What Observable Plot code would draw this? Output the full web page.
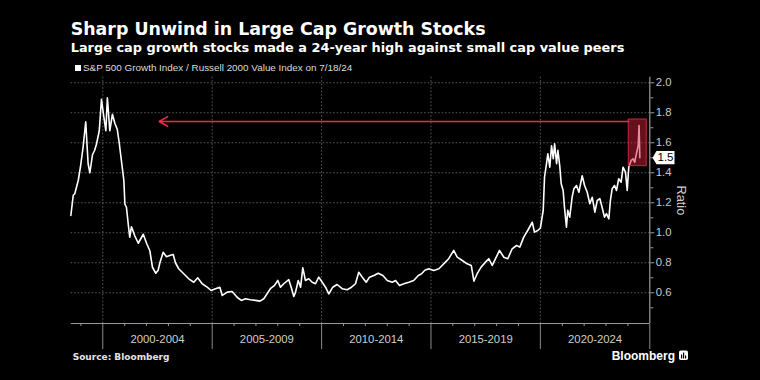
<!DOCTYPE html>
<html><head><meta charset="utf-8">
<script src="https://cdn.jsdelivr.net/npm/d3@7"></script>
<script src="https://cdn.jsdelivr.net/npm/@observablehq/plot@0.6"></script>
<style>
html,body{margin:0;padding:0;background:#000;}
#wrap{position:relative;width:760px;height:380px;background:#000;overflow:hidden;}
#wrap svg{position:absolute;left:0;top:0;}
</style></head><body>
<div id="wrap"></div>
<script>
// ---- data (decimal years) ----
const years = [1998.54,1998.65,1998.72,1998.88,1998.98,1999.10,1999.22,1999.33,1999.41,1999.53,1999.63,1999.71,1999.84,1999.94,
2000.05,2000.14,2000.21,2000.32,2000.44,2000.55,2000.66,2000.75,2000.85,2000.96,2001.01,2001.08,2001.16,2001.23,2001.31,2001.46,2001.62,2001.85,
2002.00,2002.15,2002.27,2002.42,2002.53,2002.61,2002.76,2002.91,2003.09,2003.22,2003.32,2003.47,2003.70,2003.93,2004.16,2004.34,2004.54,2004.77,2004.95,
2005.15,2005.35,2005.46,2005.69,2005.91,2006.14,2006.33,2006.52,2006.75,2006.98,2007.18,2007.36,2007.51,2007.66,2007.85,2008.00,2008.12,2008.27,2008.50,2008.61,2008.73,2008.81,2008.93,
2009.04,2009.14,2009.26,2009.41,2009.57,2009.72,2009.87,2010.03,2010.18,2010.33,2010.51,2010.71,2010.94,2011.17,2011.37,2011.55,2011.70,2011.86,
2012.04,2012.19,2012.39,2012.59,2012.80,2013.00,2013.23,2013.38,2013.56,2013.76,2013.99,2014.21,2014.42,2014.57,2014.72,2014.90,
2015.13,2015.36,2015.51,2015.66,2015.81,2016.04,2016.20,2016.43,2016.65,2016.84,2016.96,2017.11,2017.29,2017.49,2017.64,2017.80,2017.95,
2018.13,2018.33,2018.51,2018.71,2018.91,2019.06,2019.24,2019.42,2019.63,2019.73,2019.88,
2020.00,2020.13,2020.19,2020.28,2020.34,2020.43,2020.51,2020.59,2020.65,2020.74,2020.80,2020.89,2020.95,2021.04,2021.10,2021.19,2021.25,2021.34,2021.45,2021.53,2021.65,2021.76,2021.91,
2022.02,2022.14,2022.26,2022.37,2022.49,2022.60,2022.72,2022.82,2022.93,2023.02,2023.13,2023.20,2023.28,2023.39,2023.48,2023.58,2023.69,2023.78,2023.89,2023.97,
2024.04,2024.15,2024.24,2024.31,2024.39,2024.47,2024.51,2024.53,2024.545];
const ratio = [1.115,1.25,1.26,1.35,1.44,1.57,1.74,1.46,1.40,1.52,1.55,1.59,1.68,1.89,
1.77,1.68,1.90,1.68,1.79,1.73,1.69,1.60,1.48,1.35,1.19,1.17,1.06,0.97,1.04,0.98,0.93,0.99,
0.93,0.88,0.77,0.73,0.75,0.80,0.87,0.84,0.85,0.855,0.80,0.76,0.727,0.693,0.67,0.70,0.66,0.637,0.615,
0.627,0.637,0.582,0.604,0.608,0.57,0.549,0.56,0.553,0.549,0.544,0.56,0.593,0.627,0.649,0.682,0.637,0.66,0.687,0.637,0.575,0.604,0.682,
0.637,0.767,0.682,0.693,0.67,0.66,0.704,0.67,0.637,0.593,0.637,0.655,0.627,0.62,0.637,0.66,0.737,0.704,
0.67,0.704,0.715,0.73,0.715,0.682,0.67,0.682,0.649,0.66,0.67,0.682,0.715,0.727,0.75,0.76,
0.749,0.76,0.782,0.804,0.827,0.882,0.837,0.815,0.793,0.782,0.677,0.727,0.771,0.804,0.827,0.782,0.827,
0.882,0.837,0.827,0.893,0.915,0.904,0.971,1.015,1.07,1.004,1.015,
1.03,1.15,1.37,1.46,1.527,1.437,1.58,1.493,1.593,1.46,1.549,1.437,1.327,1.282,1.17,1.037,1.149,1.104,1.237,1.293,1.315,1.27,1.38,
1.315,1.27,1.193,1.237,1.137,1.215,1.227,1.17,1.104,1.127,1.093,1.215,1.293,1.315,1.282,1.36,1.337,1.437,1.404,1.282,
1.437,1.482,1.493,1.47,1.527,1.58,1.715,1.60,1.50];

const gridYears = [2000, 2005, 2010, 2015, 2020];
const boundaryYears = [2000, 2005, 2010, 2015, 2020, 2025];
const minorYears = [1999,2001,2002,2003,2004,2006,2007,2008,2009,2011,2012,2013,2014,2016,2017,2018,2019,2021,2022,2023,2024];
const periodLabels = ["2000-2004", "2005-2009", "2010-2014", "2015-2019", "2020-2024"];
const periodMid = [2002.5, 2007.5, 2012.5, 2017.5, 2022.5];
const yTicks = [0.6, 0.8, 1.0, 1.2, 1.4, 1.6, 1.8, 2.0];
const yMinor = [0.5, 0.7, 0.9, 1.1, 1.3, 1.5, 1.7, 1.9];
const lastValue = [1.5];
const highlight = [{from: 2024.04, to: 2024.86, low: 1.444, high: 1.755}];
const arrowAnn = [{from: 2024.04, to: 2002.58, level: 1.742}];
const xDomain = [1998.556, 2025.0];
const yDomain = [0.395, 2.037];

function toDate(y) {
  const yr = Math.floor(y);
  const s = Date.UTC(yr, 0, 1), e = Date.UTC(yr + 1, 0, 1);
  return new Date(s + (y - yr) * (e - s));
}
const data = years.map((y, i) => ({date: toDate(y), value: ratio[i]}));
const endDate = toDate(xDomain[1]);

const tagSymbol = {
  draw(ctx) {
    ctx.moveTo(2.7, 0);
    ctx.lineTo(6.7, -6.7);
    ctx.lineTo(24.7, -6.7);
    ctx.lineTo(24.7, 6.5);
    ctx.lineTo(6.7, 6.5);
    ctx.closePath();
  }
};
const blank = () => "";
const gridStyle = {stroke: "#5c5c5c", strokeOpacity: 1, strokeDasharray: "1.5,2", strokeWidth: 1};

const chart = Plot.plot({
  width: 760, height: 380,
  marginTop: 76.7, marginBottom: 57, marginLeft: 70.7, marginRight: 110.7,
  style: {background: "transparent", color: "#c8c8c8", fontFamily: "'Liberation Sans', Arial, sans-serif", fontSize: "11.3px"},
  x: {type: "utc", domain: xDomain.map(toDate), label: null},
  y: {domain: yDomain, label: null},
  marks: [
    Plot.gridY(yTicks, gridStyle),
    Plot.gridX(gridYears.map(toDate), gridStyle),
    Plot.axisX(boundaryYears.map(toDate), {tickSize: 26, tickFormat: blank, stroke: "#8a8a8a", label: null}),
    Plot.axisX(minorYears.map(toDate), {tickSize: 3, tickFormat: blank, stroke: "#9a9a9a", label: null}),
    Plot.ruleY([yDomain[0]], {stroke: "#9a9a9a", strokeWidth: 1.2}),
    Plot.ruleX([endDate], {stroke: "#9a9a9a", strokeWidth: 1.2}),
    Plot.axisY(yTicks, {anchor: "right", tickSize: 4, tickPadding: 2, tickFormat: d3.format(".1f"), stroke: "#9a9a9a", label: null}),
    Plot.axisY(yMinor, {anchor: "right", tickSize: 3, tickFormat: blank, stroke: "#9a9a9a", label: null}),
    Plot.text(periodLabels, {x: (d, i) => toDate(periodMid[i]), frameAnchor: "bottom", dy: 19.5, fill: "#cfcfcf", fontSize: 11.3}),
    Plot.text(["Ratio"], {frameAnchor: "right", textAnchor: "middle", dx: 31, rotate: 90, fill: "#cfcfcf", fontSize: 12.8}),
    Plot.lineY(data, {x: "date", y: "value", stroke: "#ffffff", strokeWidth: 1.6, strokeLinejoin: "round"}),
    Plot.rect(highlight, {x1: d => toDate(d.from), x2: d => toDate(d.to), y1: "low", y2: "high", fill: "#d01e3c", fillOpacity: 0.5, stroke: "#c42a3e", strokeWidth: 1}),
    Plot.arrow(arrowAnn, {x1: d => toDate(d.from), x2: d => toDate(d.to), y1: "level", y2: "level", stroke: "#f0284a", strokeWidth: 1.6, headLength: 9}),
    Plot.dot(lastValue, {x: () => endDate, y: d => d, symbol: tagSymbol, fill: "#ffffff", stroke: null}),
    Plot.text(lastValue, {x: () => endDate, y: d => d, text: d => d3.format(".1f")(d), dx: 15.7, fill: "#000000", fontSize: 11.5})
  ]
});
document.getElementById("wrap").appendChild(chart);

// ---- titles, legend, source, logo ----
const over = d3.select("#wrap").append("svg").attr("width", 760).attr("height", 380);
over.append("text").attr("x", 70.7).attr("y", 35).attr("fill", "#fff")
  .style("font-family", "'DejaVu Sans', sans-serif").style("font-weight", "bold").style("font-size", "17.4px")
  .text("Sharp Unwind in Large Cap Growth Stocks");
over.append("text").attr("x", 70.7).attr("y", 51.7).attr("fill", "#fff")
  .style("font-family", "'DejaVu Sans', sans-serif").style("font-weight", "bold").style("font-size", "12.9px")
  .text("Large cap growth stocks made a 24-year high against small cap value peers");
over.append("rect").attr("x", 75).attr("y", 65).attr("width", 6).attr("height", 6).attr("fill", "#fff");
over.append("text").attr("x", 83).attr("y", 71.3).attr("fill", "#dcdcdc")
  .style("font-family", "'Liberation Sans', Arial, sans-serif").style("font-size", "9.9px")
  .text("S&P 500 Growth Index / Russell 2000 Value Index on 7/18/24");
over.append("text").attr("x", 72.7).attr("y", 360.3).attr("fill", "#e4e4e4")
  .style("font-family", "'DejaVu Sans', sans-serif").style("font-weight", "bold").style("font-size", "9px")
  .text("Source: Bloomberg");
over.append("text").attr("x", 611.7).attr("y", 360).attr("fill", "#fff")
  .style("font-family", "'Liberation Sans', Arial, sans-serif").style("font-weight", "bold").style("font-size", "12px")
  .text("Bloomberg");
const icon = over.append("g").attr("transform", "translate(679,350.5)");
icon.append("rect").attr("width", 9).attr("height", 9.5).attr("rx", 1.8).attr("fill", "#fff");
icon.append("rect").attr("x", 2).attr("y", 4).attr("width", 1.2).attr("height", 4).attr("fill", "#000");
icon.append("rect").attr("x", 4).attr("y", 2).attr("width", 1.2).attr("height", 6).attr("fill", "#000");
icon.append("rect").attr("x", 6).attr("y", 5).attr("width", 1.2).attr("height", 3).attr("fill", "#000");
</script>
</body></html>
